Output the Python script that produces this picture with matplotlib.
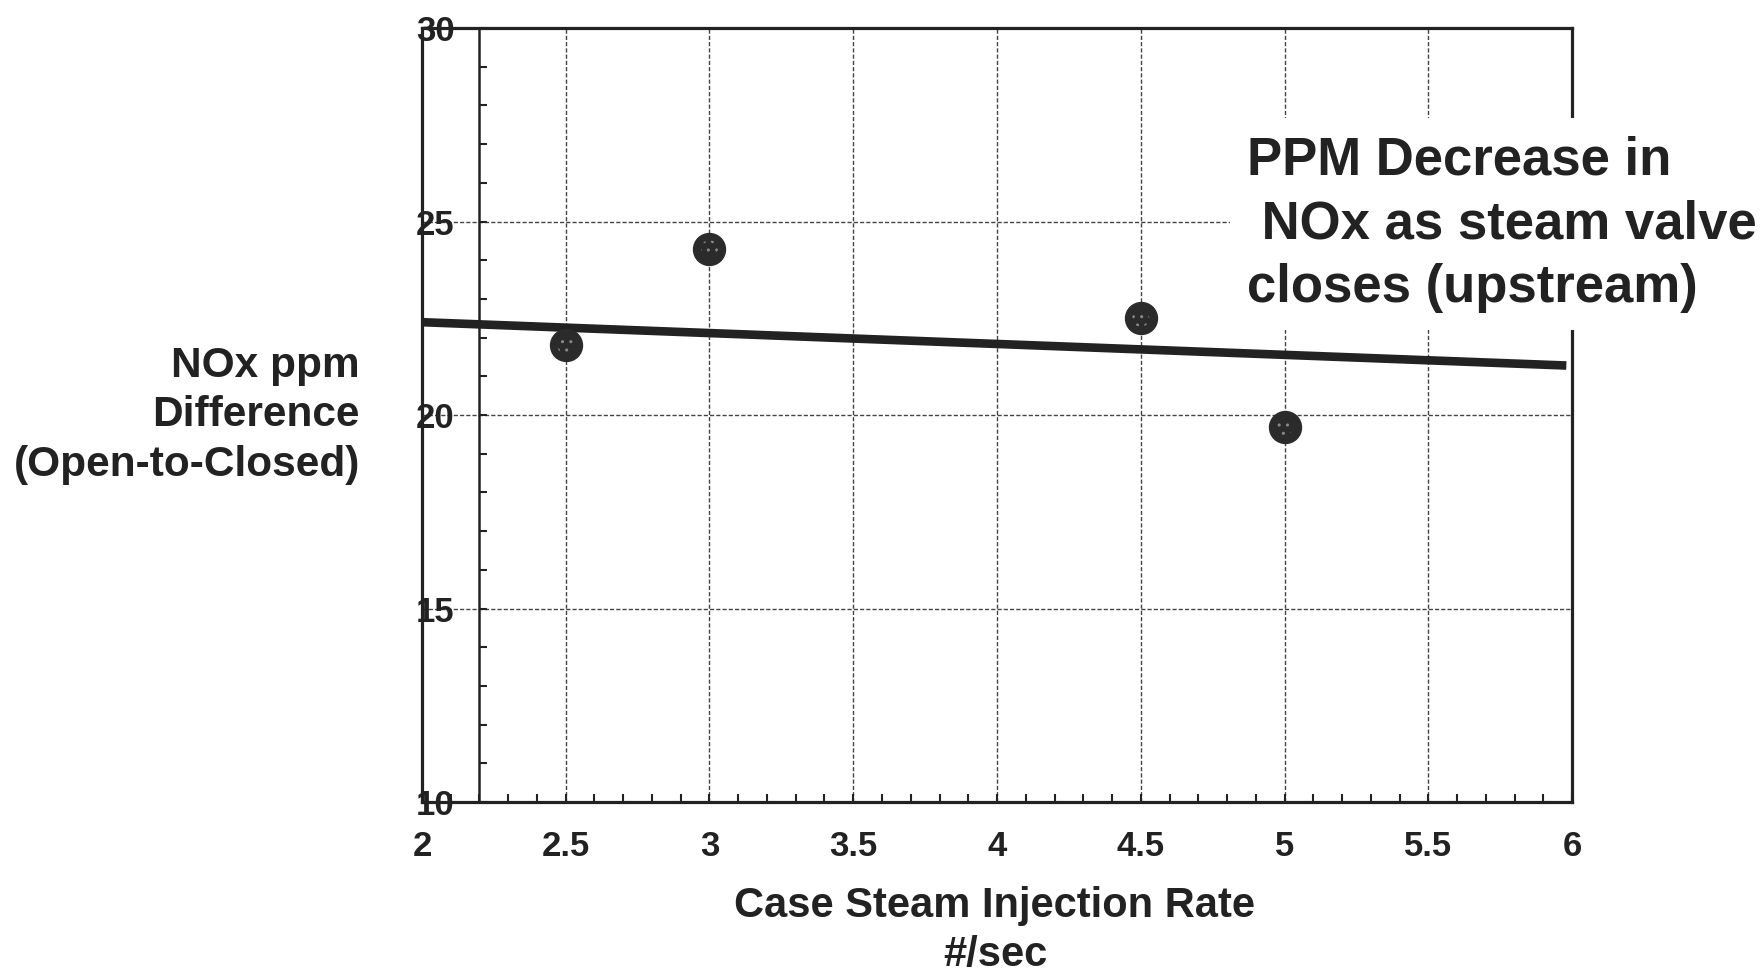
import matplotlib
matplotlib.use("Agg")
import matplotlib.pyplot as plt
from matplotlib.ticker import MultipleLocator

plt.rcParams['font.family'] = ['Liberation Sans', 'DejaVu Sans']
plt.rcParams['font.weight'] = 'bold'

# data
steam_rate = [2.5, 3.0, 4.5, 5.0]
nox_diff = [21.8, 24.3, 22.5, 19.7]

# trend line as drawn on the original (end points)
trend_x = [2.0, 5.98]
trend_y = [22.4, 21.28]

x_ticks = [2, 2.5, 3, 3.5, 4, 4.5, 5, 5.5, 6]
x_labels = ['2', '2.5', '3', '3.5', '4', '4.5', '5', '5.5', '6']
y_ticks = [10, 15, 20, 25, 30]
y_labels = ['10', '15', '20', '25', '30']

ink = '#222222'

fig = plt.figure(figsize=(17.64, 9.75), dpi=100)
ax = fig.add_axes([0.2392, 0.1774, 0.652, 0.7938])

ax.set_xlim(2, 6)
ax.set_ylim(10, 30)

# grid
ax.set_xticks(x_ticks)
ax.set_xticklabels(x_labels)
ax.set_yticks(y_ticks)
ax.set_yticklabels(y_labels)
ax.xaxis.set_minor_locator(MultipleLocator(0.1))
ax.yaxis.set_minor_locator(MultipleLocator(1))
ax.grid(True, which='major', color='#444444', lw=1.0, ls=(0, (3, 1.5)))
ax.set_axisbelow(True)

# frame: left spine sits at x=2.2, plus an extra line at x=2
for s in ax.spines.values():
    s.set_linewidth(2.3)
    s.set_color(ink)
ax.spines['left'].set_position(('data', 2.2))
ax.spines['left'].set_linewidth(1.8)
ax.axvline(2, color=ink, lw=2.3, clip_on=False, zorder=3)

ax.tick_params(axis='both', which='both', direction='in', colors=ink,
               width=1.5, length=6)
ax.tick_params(axis='x', which='major', pad=20, labelsize=25)
ax.tick_params(axis='y', which='major', pad=18, labelsize=25)
for lab in ax.get_xticklabels() + ax.get_yticklabels():
    lab.set_fontweight('bold')

# trend line and points
ax.plot(trend_x, trend_y, color=ink, lw=6.2, solid_capstyle='butt', zorder=4)
ax.plot(steam_rate, nox_diff, 'o', ms=23, color='#2b2b2b',
        mec='#2b2b2b', zorder=5, clip_on=False)
# faint stipple inside the dots, as on the print
ax.scatter(steam_rate, nox_diff, s=150, facecolor='none', edgecolor='#8a8a8a',
           hatch='..', linewidth=0, zorder=6)

# axis titles
fig.text(0.204, 0.574, 'NOx ppm\nDifference\n(Open-to-Closed)', ha='right',
         va='center', multialignment='right', fontsize=30.5, fontweight='bold',
         color=ink, linespacing=1.3)
fig.text(0.564, 0.046, 'Case Steam Injection Rate\n#/sec', ha='center',
         va='center', fontsize=30, fontweight='bold', color=ink,
         linespacing=1.3)

# annotation with white background covering the frame
fig.text(0.7069, 0.770, 'PPM Decrease in\n NOx as steam valve\ncloses (upstream)',
         ha='left', va='center', fontsize=38, fontweight='bold', color=ink,
         linespacing=1.36,
         bbox=dict(facecolor='white', edgecolor='none', pad=12))

fig.savefig('out.png', dpi=100)
